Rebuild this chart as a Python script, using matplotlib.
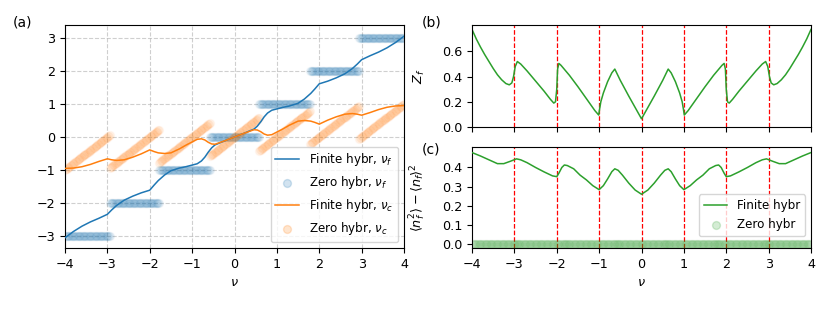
import numpy as np
import matplotlib
matplotlib.use("Agg")
import matplotlib.pyplot as plt

# ---------------- data ----------------
# Panel (a): finite hybridisation, nu_c (orange) and nu_f (blue)
nu_a = [-4.0, -3.8, -3.6, -3.4, -3.2, -3.0, -2.9, -2.78, -2.6, -2.4, -2.2, -2.0,
        -1.9, -1.8, -1.65, -1.5, -1.3, -1.15, -1.0, -0.88, -0.78, -0.7, -0.62,
        -0.54, -0.46, -0.35, -0.2, -0.1, 0.0,
        0.1, 0.2, 0.35, 0.46, 0.54, 0.62, 0.7, 0.78, 0.88, 1.0, 1.15, 1.3, 1.5,
        1.65, 1.8, 1.9, 2.0, 2.2, 2.4, 2.6, 2.78, 2.9, 3.0, 3.2, 3.4, 3.6, 3.8, 4.0]
nu_c_finite = [-0.95, -0.94, -0.90, -0.83, -0.74, -0.66, -0.69, -0.71, -0.69, -0.61,
               -0.51, -0.39, -0.44, -0.48, -0.50, -0.48, -0.36, -0.25, -0.15, -0.07,
               -0.055, -0.09, -0.16, -0.21, -0.22, -0.17, -0.10, -0.05, 0.0,
               0.05, 0.10, 0.17, 0.22, 0.21, 0.16, 0.09, 0.055, 0.07, 0.15, 0.25,
               0.36, 0.48, 0.50, 0.48, 0.44, 0.39, 0.51, 0.61, 0.69, 0.71, 0.69,
               0.66, 0.74, 0.83, 0.90, 0.94, 0.95]
nu_f_finite = [-3.05, -2.86, -2.70, -2.57, -2.46, -2.34, -2.21, -2.07, -1.91, -1.79,
               -1.69, -1.61, -1.46, -1.32, -1.15, -1.02, -0.94, -0.90, -0.85, -0.81,
               -0.725, -0.61, -0.46, -0.33, -0.24, -0.18, -0.10, -0.05, 0.0,
               0.05, 0.10, 0.18, 0.24, 0.33, 0.46, 0.61, 0.725, 0.81, 0.85, 0.90,
               0.94, 1.02, 1.15, 1.32, 1.46, 1.61, 1.69, 1.79, 1.91, 2.07, 2.21,
               2.34, 2.46, 2.57, 2.70, 2.86, 3.05]

# Zero hybridisation: nu_f plateaus (integer levels) between these edges
zero_edges = [-4.0, -2.94, -1.78, -0.58, 0.58, 1.78, 2.94, 4.0]
zero_levels = [-3, -2, -1, 0, 1, 2, 3]
zero_step = 0.02

# Panel (b): Z_f
nu_b = [-4.0, -3.9, -3.8, -3.7, -3.6, -3.5, -3.4, -3.3, -3.2, -3.12, -3.06, -3.02,
        -2.98, -2.93, -2.85, -2.7, -2.5, -2.3, -2.15, -2.07, -2.03, -2.0, -1.98,
        -1.95, -1.9, -1.7, -1.5, -1.3, -1.1, -1.01, -0.99, -0.96, -0.9, -0.8,
        -0.7, -0.63, -0.5, -0.3, -0.15, -0.05, 0.0,
        0.05, 0.15, 0.3, 0.5, 0.63, 0.7, 0.8, 0.9, 0.96, 0.99, 1.01, 1.1, 1.3,
        1.5, 1.7, 1.9, 1.95, 1.98, 2.0, 2.03, 2.07, 2.15, 2.3, 2.5, 2.7, 2.85,
        2.93, 2.98, 3.02, 3.06, 3.12, 3.2, 3.3, 3.4, 3.5, 3.6, 3.7, 3.8, 3.9, 4.0]
z_f = [0.775, 0.70, 0.635, 0.575, 0.52, 0.465, 0.415, 0.375, 0.345, 0.335, 0.35,
       0.40, 0.48, 0.52, 0.50, 0.445, 0.365, 0.285, 0.22, 0.19, 0.20, 0.30, 0.46,
       0.505, 0.49, 0.41, 0.32, 0.225, 0.13, 0.095, 0.14, 0.20, 0.27, 0.36, 0.43,
       0.46, 0.37, 0.245, 0.155, 0.095, 0.065,
       0.095, 0.155, 0.245, 0.37, 0.46, 0.43, 0.36, 0.27, 0.20, 0.14, 0.095,
       0.13, 0.225, 0.32, 0.41, 0.49, 0.505, 0.46, 0.30, 0.20, 0.19, 0.22, 0.285,
       0.365, 0.445, 0.50, 0.52, 0.48, 0.40, 0.35, 0.335, 0.345, 0.375, 0.415,
       0.465, 0.52, 0.575, 0.635, 0.70, 0.775]

# Panel (c): f-occupation variance
nu_c_ax = [-4.0, -3.8, -3.6, -3.4, -3.25, -3.1, -2.95, -2.85, -2.7, -2.5, -2.3,
           -2.1, -2.0, -1.95, -1.88, -1.82, -1.75, -1.6, -1.45, -1.3, -1.15, -1.0,
           -0.9, -0.8, -0.7, -0.63, -0.55, -0.45, -0.3, -0.15, 0.0,
           0.15, 0.3, 0.45, 0.55, 0.63, 0.7, 0.8, 0.9, 1.0, 1.15, 1.3, 1.45, 1.6,
           1.75, 1.82, 1.88, 1.95, 2.0, 2.1, 2.3, 2.5, 2.7, 2.85, 2.95, 3.1, 3.25,
           3.4, 3.6, 3.8, 4.0]
var_finite = [0.478, 0.46, 0.44, 0.42, 0.42, 0.432, 0.445, 0.44, 0.425, 0.40,
              0.377, 0.356, 0.352, 0.37, 0.40, 0.413, 0.41, 0.393, 0.36, 0.335,
              0.305, 0.284, 0.305, 0.34, 0.378, 0.393, 0.385, 0.36, 0.318, 0.282,
              0.26,
              0.282, 0.318, 0.36, 0.385, 0.393, 0.378, 0.34, 0.305, 0.284, 0.305,
              0.335, 0.36, 0.393, 0.41, 0.413, 0.40, 0.37, 0.352, 0.356, 0.377,
              0.40, 0.425, 0.44, 0.445, 0.432, 0.42, 0.42, 0.44, 0.46, 0.478]
var_zero_level = 0.0

vlines_x = [-3, -2, -1, 0, 1, 2, 3]
xticks = [-4, -3, -2, -1, 0, 1, 2, 3, 4]

# ---------------- figure ----------------
plt.rcParams['font.size'] = 9.2
fig = plt.figure(figsize=(8.3, 3.12), dpi=100)

W, H = 830.0, 312.0
def rect(x0, y0, x1, y1):
    return [x0 / W, 1 - y1 / H, (x1 - x0) / W, (y1 - y0) / H]

axa = fig.add_axes(rect(65, 25, 404, 248))
axb = fig.add_axes(rect(472, 25, 811, 127))
axc = fig.add_axes(rect(472, 147, 811, 248))

# zero-hybr sampled points
zx, zf = [], []
for lo, hi, lev in zip(zero_edges[:-1], zero_edges[1:], zero_levels):
    pts = np.arange(lo, hi + 1e-9, zero_step)
    zx.extend(pts)
    zf.extend([lev] * len(pts))
zx = np.array(zx)
zf = np.array(zf, dtype=float)
zc = zx - zf

blue, orange, green = '#1f77b4', '#ff7f0e', '#2ca02c'
ms = 32
al = 0.055

axa.plot(nu_a, nu_f_finite, color=blue, lw=1.1, label=r'Finite hybr, $\nu_f$', zorder=3)
axa.scatter(zx, zf, s=ms, color=blue, alpha=al, label=r'Zero hybr, $\nu_f$', zorder=2)
axa.plot(nu_a, nu_c_finite, color=orange, lw=1.1, label=r'Finite hybr, $\nu_c$', zorder=3)
axa.scatter(zx, zc, s=ms, color=orange, alpha=al, label=r'Zero hybr, $\nu_c$', zorder=2)
axa.set_xlim(-4, 4)
axa.set_ylim(-3.36, 3.39)
axa.set_xticks(xticks)
axa.set_yticks([-3, -2, -1, 0, 1, 2, 3])
axa.grid(True, ls='--', color='#b0b0b0', alpha=0.6, lw=0.8)
axa.set_xlabel(r'$\nu$')
leg = axa.legend(loc='lower right', fontsize=8.6)
for h in leg.legend_handles[1::2]:
    h.set_alpha(0.2)

axb.plot(nu_b, z_f, color=green, lw=1.1)
for v in vlines_x:
    axb.axvline(v, color='red', ls='--', lw=0.9, zorder=1)
axb.set_xlim(-4, 4)
axb.set_ylim(0, 0.81)
axb.set_xticks(xticks)
axb.set_xticklabels([])
axb.set_yticks([0.0, 0.2, 0.4, 0.6])
axb.set_ylabel(r'$Z_f$', labelpad=11)

axc.plot(nu_c_ax, var_finite, color=green, lw=1.1, label='Finite hybr', zorder=3)
axc.scatter(zx, np.full_like(zx, var_zero_level), s=ms, color=green, alpha=al,
            label='Zero hybr', zorder=2)
for v in vlines_x:
    axc.axvline(v, color='red', ls='--', lw=0.9, zorder=1)
axc.set_xlim(-4, 4)
axc.set_ylim(-0.021, 0.507)
axc.set_xticks(xticks)
axc.set_yticks([0.0, 0.1, 0.2, 0.3, 0.4])
axc.set_xlabel(r'$\nu$')
axc.set_ylabel(r'$\langle n_f^2\rangle - \langle n_f\rangle^2$', labelpad=10)
legc = axc.legend(loc='lower right', fontsize=8.6, bbox_to_anchor=(1.0, 0.06))
legc.legend_handles[1].set_alpha(0.2)

fig.text(13 / W, 1 - 22 / H, '(a)', fontsize=10, va='center')
fig.text(422 / W, 1 - 22 / H, '(b)', fontsize=10, va='center')
fig.text(422 / W, 1 - 149 / H, '(c)', fontsize=10, va='center')

fig.savefig('out.png', dpi=100)
